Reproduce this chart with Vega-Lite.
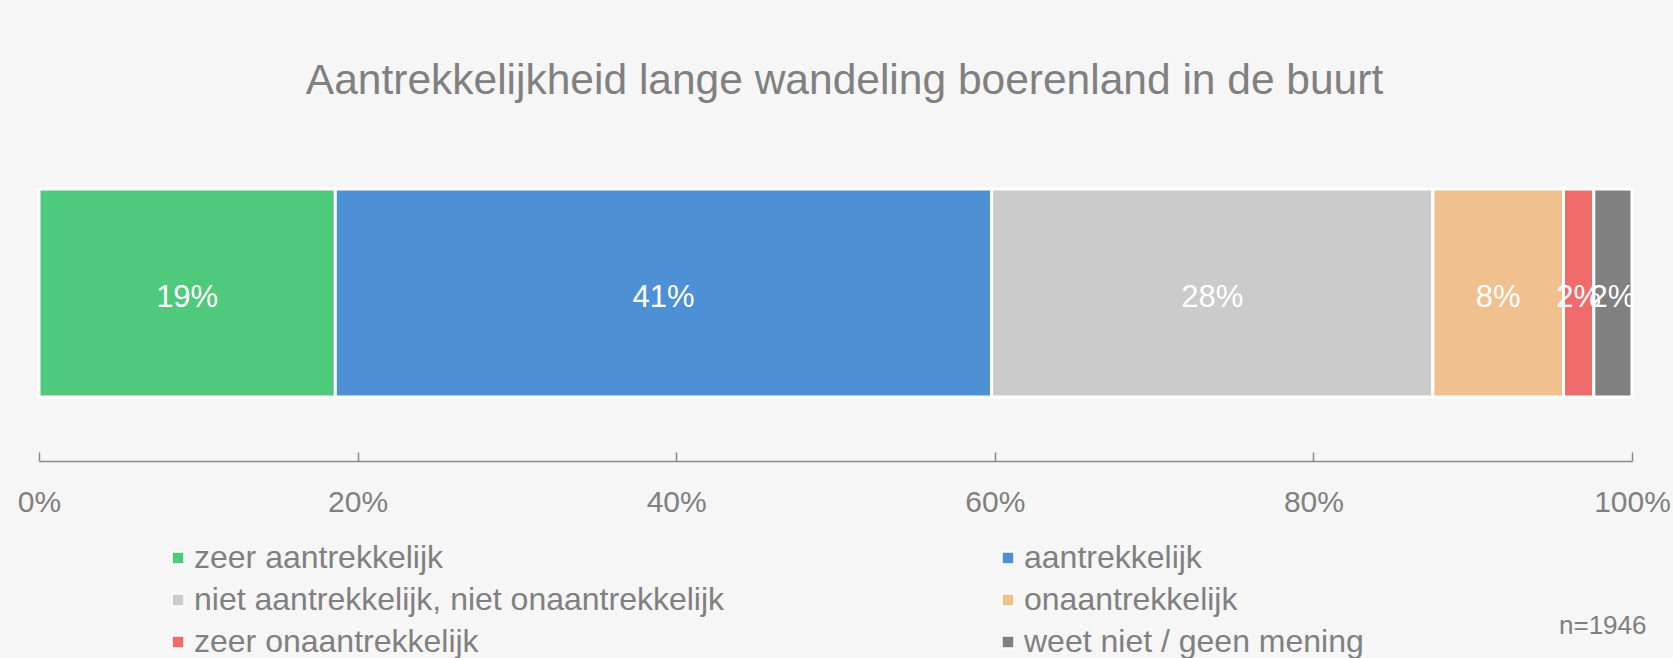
{
  "$schema": "https://vega.github.io/schema/vega-lite/v6.json",
  "width": 1593,
  "height": 336,
  "autosize": {"type": "none"},
  "padding": {"left": 39, "top": 125, "right": 41, "bottom": 197},
  "background": "#f6f6f6",
  "config": {"view": {"stroke": null}, "font": "Liberation Sans"},
  "title": {
    "text": "Aantrekkelijkheid lange wandeling boerenland in de buurt",
    "fontSize": 42.5,
    "fontWeight": "normal",
    "color": "#808080",
    "anchor": "middle",
    "baseline": "alphabetic",
    "offset": -11,
    "dx": 9
  },
  "data": {
    "values": [
      {"cat": "zeer aantrekkelijk", "pct": 0.186, "order": 1},
      {"cat": "aantrekkelijk", "pct": 0.412, "order": 2},
      {"cat": "niet aantrekkelijk, niet onaantrekkelijk", "pct": 0.277, "order": 3},
      {"cat": "onaantrekkelijk", "pct": 0.082, "order": 4},
      {"cat": "zeer onaantrekkelijk", "pct": 0.019, "order": 5},
      {"cat": "weet niet / geen mening", "pct": 0.024, "order": 6}
    ]
  },
  "transform": [
    {"stack": "pct", "groupby": [], "sort": [{"field": "order", "order": "ascending"}], "as": ["x0", "x1"]},
    {"calculate": "(datum.x0 + datum.x1) / 2", "as": "xm"}
  ],
  "encoding": {
    "y": {"datum": "q", "type": "nominal", "scale": {"paddingOuter": 0.3077, "paddingInner": 0}, "axis": null}
  },
  "layer": [
    {
      "mark": {"type": "bar", "stroke": "white", "strokeWidth": 3},
      "encoding": {
        "x": {
          "field": "x0",
          "type": "quantitative",
          "scale": {"domain": [0, 1], "nice": false},
          "axis": {
            "values": [0, 0.2, 0.4, 0.6, 0.8, 1],
            "format": ".0%",
            "grid": false,
            "labelFontSize": 30,
            "labelColor": "#808080",
            "labelFlush": false,
            "labelOverlap": false,
            "domainColor": "#888888",
            "domainWidth": 1.5,
            "tickColor": "#888888",
            "tickWidth": 1.5,
            "tickSize": -9,
            "labelPadding": 35,
            "title": "n=1946",
            "titleFontSize": 26,
            "titleFontWeight": "normal",
            "titleColor": "#808080",
            "titleAnchor": "end",
            "titleAlign": "right",
            "titleBaseline": "alphabetic",
            "titleX": 1607,
            "titleY": 172
          }
        },
        "x2": {"field": "x1"},
        "color": {
          "field": "cat",
          "type": "nominal",
          "scale": {
            "domain": ["zeer aantrekkelijk", "aantrekkelijk", "niet aantrekkelijk, niet onaantrekkelijk", "onaantrekkelijk", "zeer onaantrekkelijk", "weet niet / geen mening"],
            "range": ["#4fc97b", "#4d90d6", "#cbcbcb", "#f0c08e", "#f06c6c", "#808080"]
          },
          "legend": {
            "orient": "none",
            "direction": "horizontal",
            "legendX": 123,
            "legendY": 417,
            "columns": 2,
            "columnPadding": 267,
            "rowPadding": 10,
            "title": null,
            "symbolType": "square",
            "symbolSize": 144,
            "symbolStrokeColor": "white",
            "symbolStrokeWidth": 1.5,
            "labelFontSize": 32,
            "labelColor": "#808080",
            "labelLimit": 900,
            "labelOffset": 0
          }
        }
      }
    },
    {
      "mark": {"type": "text", "color": "white", "fontSize": 31, "baseline": "middle", "align": "center", "dy": 5},
      "encoding": {
        "x": {"field": "xm", "type": "quantitative"},
        "text": {"field": "pct", "type": "quantitative", "format": ".0%"}
      }
    }
  ]
}
